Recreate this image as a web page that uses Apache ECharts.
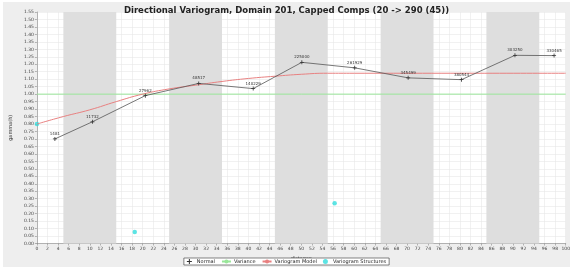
<!DOCTYPE html>
<html>
<head>
<meta charset="utf-8">
<title>Directional Variogram</title>
<script src="https://cdn.jsdelivr.net/npm/echarts@6/dist/echarts.min.js"></script>
<style>
    html, body { margin: 0; padding: 0; background: #fff; }
    #myVarioChart { width: 573px; height: 270px; }
</style>
</head>
<body>
<div id="myVarioChart"></div>
<script>
    /* 实验变异函数点：距离、gamma值、点对数 */
    var distances = [3.4, 10.5, 20.5, 30.6, 40.9, 50.1, 60.1, 70.2, 80.3, 90.4, 97.8];
    var gammas = [0.70, 0.815, 0.99, 1.072, 1.037, 1.213, 1.176, 1.109, 1.097, 1.26, 1.258];
    var pairCounts = ['1481', '11732', '27962', '48517', '140229', '225000', '261929', '345499', '380544', '303250', '330465'];

    /* 变异函数模型曲线（读图取点） */
    var modelDist = [0, 5, 10, 15, 20, 25, 30, 35, 40, 45, 50, 55, 60, 100];
    var modelGamma = [0.80, 0.85, 0.895, 0.95, 1.0, 1.035, 1.06, 1.085, 1.105, 1.12, 1.133, 1.14, 1.14, 1.14];

    /* 结构点（块金、各结构的变程和基台） */
    var structDist = [0, 18.5, 56.3];
    var structGamma = [0.80, 0.077, 0.27];

    /* 方差线 */
    var varianceDist = [0, 100];
    var varianceGamma = [1.0, 1.0];

    /* 灰色背景带 */
    var bands = [[5, 15], [25, 35], [45, 55], [65, 75], [85, 95]];

    function zip(xs, ys) {
        var out = [];
        for (var i = 0; i < xs.length; i++) out.push([xs[i], ys[i]]);
        return out;
    }

    var varioChart = echarts.init(document.getElementById('myVarioChart'));
    var fontFam = 'DejaVu Sans';
    var crossIcon = 'path://M4,0L6,0L6,4L10,4L10,6L6,6L6,10L4,10L4,6L0,6L0,4L4,4Z';

    varioChart.setOption({
        animation: false,
        backgroundColor: '#fff',
        graphic: [{
            type: 'rect', z: -100,
            shape: { x: 3, y: 2, width: 567, height: 265 },
            style: { fill: '#eeeeee' }
        }],
        title: {
            text: 'Directional Variogram, Domain 201, Capped Comps (20 -> 290 (45))',
            left: 'center', top: 1,
            textStyle: { fontFamily: fontFam, fontSize: 8.5, fontWeight: 'bold', color: '#222' }
        },
        legend: {
            data: [
                { name: 'Normal', icon: crossIcon },
                { name: 'Variance' },
                { name: 'Variogram Model' },
                { name: 'Variogram Structures', icon: 'circle' }
            ],
            left: 'center', top: 258,
            itemWidth: 9, itemHeight: 5, itemGap: 6,
            padding: [1, 3],
            borderColor: '#333', borderWidth: 0.6,
            backgroundColor: '#fff',
            textStyle: { fontFamily: fontFam, fontSize: 5, color: '#222', padding: [0, 0, 0, -2] }
        },
        grid: {
            left: 24, right: 6, top: 12, bottom: 26.5,
            show: true, backgroundColor: '#fff', borderWidth: 0, z: -3
        },
        xAxis: {
            type: 'value', min: 0, max: 100, interval: 2,
            name: 'distance', nameLocation: 'middle', nameGap: 10,
            nameTextStyle: { fontFamily: fontFam, fontSize: 5, color: '#333' },
            axisLine: { lineStyle: { color: '#888', width: 0.6 } },
            axisTick: { length: 2, lineStyle: { color: '#888', width: 0.6 } },
            axisLabel: { fontFamily: fontFam, fontSize: 4.5, color: '#444', margin: 3 },
            splitLine: { lineStyle: { color: '#e8e8e8', width: 0.6 } }
        },
        yAxis: {
            type: 'value', min: 0, max: 1.55, interval: 0.05,
            name: 'gamma(h)', nameLocation: 'middle', nameGap: 16,
            nameTextStyle: { fontFamily: fontFam, fontSize: 5, color: '#333' },
            axisLine: { show: true, lineStyle: { color: '#888', width: 0.6 } },
            axisTick: { show: true, length: 2, lineStyle: { color: '#888', width: 0.6 } },
            axisLabel: {
                fontFamily: fontFam, fontSize: 4.5, color: '#444', margin: 3,
                formatter: function (v) { return v.toFixed(2); }
            },
            splitLine: { lineStyle: { color: '#e8e8e8', width: 0.6 } }
        },
        series: [
            {
                /* 背景灰带 */
                name: 'bands', type: 'line', data: [], z: -1,
                markArea: {
                    silent: true,
                    itemStyle: { color: '#dedede' },
                    data: bands.map(function (b) { return [{ xAxis: b[0] }, { xAxis: b[1] }]; })
                }
            },
            {
                name: 'Variance', type: 'line',
                data: zip(varianceDist, varianceGamma),
                symbol: 'none',
                lineStyle: { color: '#99e699', width: 1 },
                itemStyle: { color: '#99e699' }
            },
            {
                name: 'Variogram Model', type: 'line',
                data: zip(modelDist, modelGamma),
                smooth: true, symbol: 'none',
                lineStyle: { color: '#e88080', width: 1 },
                itemStyle: { color: '#e88080' }
            },
            {
                name: 'Normal', type: 'line',
                data: zip(distances, gammas),
                symbol: crossIcon, symbolSize: 4,
                lineStyle: { color: '#555', width: 0.8 },
                itemStyle: { color: '#333' },
                label: {
                    show: true, position: 'top', distance: 1,
                    fontFamily: fontFam, fontSize: 4, color: '#333',
                    formatter: function (p) { return pairCounts[p.dataIndex]; }
                }
            },
            {
                name: 'Variogram Structures', type: 'scatter',
                data: zip(structDist, structGamma),
                symbol: 'circle', symbolSize: 4.5,
                itemStyle: { color: '#33dddd' }
            }
        ]
    });
</script>
</body>
</html>
